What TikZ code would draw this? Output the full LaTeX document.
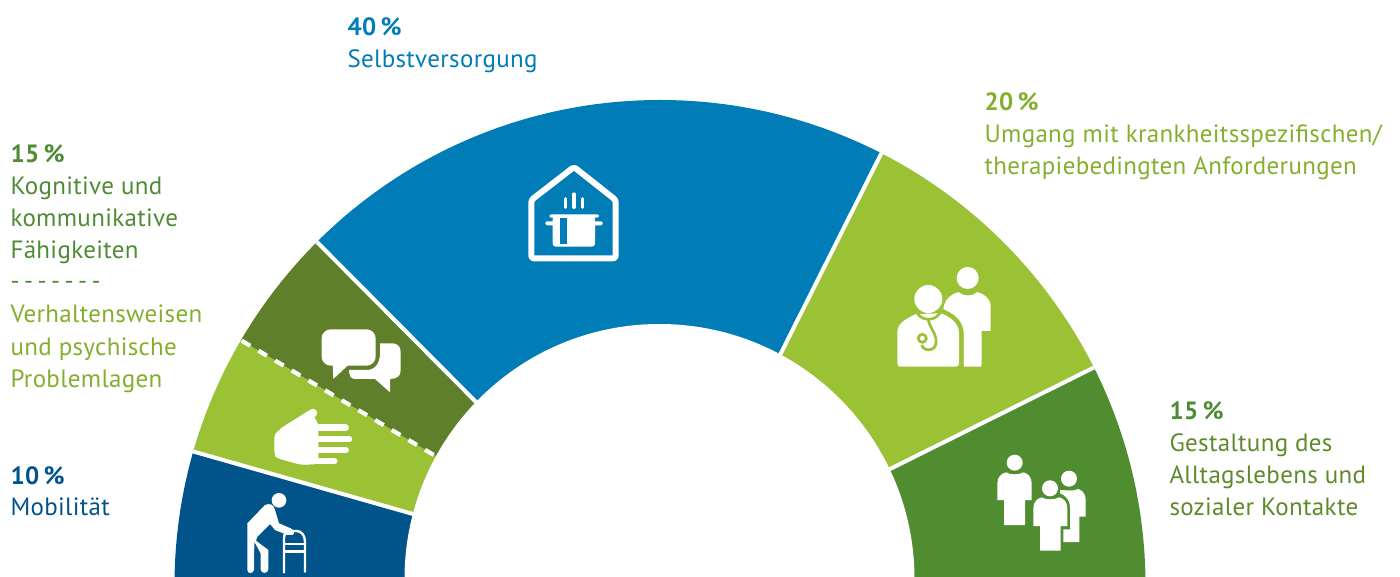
\documentclass[tikz,border=0pt]{standalone}
\usepackage{fontspec}
\usetikzlibrary{calc}
\setmainfont{PT Sans}
\newfontfamily\lab[LetterSpace=1.3]{PT Sans}
\newfontfamily\labb[LetterSpace=2,BoldFont={PT Sans Bold}]{PT Sans}
\definecolor{cblue}{HTML}{007CB7}
\definecolor{clight}{HTML}{9BC135}
\definecolor{cgreen}{HTML}{508D30}
\definecolor{colive}{HTML}{5F7F2A}
\definecolor{cnavy}{HTML}{00548A}
\definecolor{tlight}{HTML}{84AF2E}
\definecolor{tgreen}{HTML}{4F8B35}
\definecolor{tolive}{HTML}{5F8A2A}
\tikzset{
 txt/.style={anchor=base west,inner sep=0pt,font=\lab\fontsize{25}{25}\selectfont},
 pct/.style={anchor=base west,inner sep=0pt,font=\labb\bfseries\fontsize{25}{25}\selectfont},
 divider/.style={draw=white,line width=4pt},
 ic/.style={fill=white,draw=none},
 zoomed/.style={x=0.33333pt,y=-0.33333pt},
}
\begin{document}
\begin{tikzpicture}[x=1pt,y=-1pt]
\useasboundingbox (0,0) rectangle (1400,577);
\coordinate (o1) at (1095,367); \coordinate (i1) at (888,470);
\coordinate (o2) at (882,152);  \coordinate (i2) at (780,355);
\coordinate (o3) at (317,242);  \coordinate (i3) at (477,403);
\coordinate (o4) at (241.7,340.7); \coordinate (i4) at (436.7,456.7);
\coordinate (o5) at (194,451.7); \coordinate (i5) at (413,514);
\begin{scope}
\clip (0,0) rectangle (1400,577);
\clip (660,585.5) circle[radius=485.5pt];
\fill[cgreen] ($(i1)!-0.3!(o1)$) -- ($(i1)!3!(o1)$) -- (1400,700) -- (800,700) -- cycle;
\fill[clight] ($(i1)!-0.3!(o1)$) -- ($(i1)!3!(o1)$) -- ($(i2)!3!(o2)$) -- ($(i2)!-0.3!(o2)$) -- cycle;
\fill[cblue] ($(i2)!-0.3!(o2)$) -- ($(i2)!3!(o2)$) -- ($(i3)!3!(o3)$) -- ($(i3)!-0.3!(o3)$) -- cycle;
\fill[colive] ($(i3)!-0.3!(o3)$) -- ($(i3)!3!(o3)$) -- ($(i4)!3!(o4)$) -- ($(i4)!-0.3!(o4)$) -- cycle;
\fill[clight] ($(i4)!-0.3!(o4)$) -- ($(i4)!3!(o4)$) -- ($(i5)!3!(o5)$) -- ($(i5)!-0.3!(o5)$) -- cycle;
\fill[cnavy] ($(i5)!-0.3!(o5)$) -- ($(i5)!3!(o5)$) -- (-100,700) -- (500,700) -- cycle;
\draw[divider] ($(i1)!-0.2!(o1)$) -- ($(i1)!1.2!(o1)$);
\draw[divider] ($(i2)!-0.2!(o2)$) -- ($(i2)!1.2!(o2)$);
\draw[divider] ($(i3)!-0.2!(o3)$) -- ($(i3)!1.2!(o3)$);
\draw[divider] ($(i5)!-0.2!(o5)$) -- ($(i5)!1.2!(o5)$);
\draw[draw=white,line width=4.2pt,dash pattern=on 10pt off 9.4pt] (o4) -- (i4);
\fill[white] (659.5,579) circle[radius=255pt];
\end{scope}
% house
\begin{scope}[shift={(500,150)},zoomed]
\draw[white,line width=6pt,rounded corners=2.5pt,line join=round] (94,325) -- (94,150) -- (222,51) -- (347,150) -- (347,325) -- cycle;
\fill[white,rounded corners=2pt] (148,193) rectangle (297,203);
\fill[white,rounded corners=1.5pt] (136,214) rectangle (308,226);
\fill[white,rounded corners=3pt] (158,198) -- (285,198) -- (285,290) -- (158,290) -- cycle;
\fill[cblue] (180,203) rectangle (202,282);
\draw[white,line width=3.2pt,line cap=round] (196,146) -- (196,172) (222,132) -- (222,172) (248,146) -- (248,172);
\end{scope}
% doctor
\begin{scope}[shift={(880,250)},zoomed]
\fill[ic] (263,84) circle[radius=33];
\fill[ic] (190,175) .. controls (195,145) and (215,132) .. (235,126) .. controls (250,140) and (278,140) .. (292,126) .. controls (312,132) and (332,145) .. (332,170) -- (332,243) -- (305,243) -- (305,345) -- (302,350) -- (253,350) -- (250,345) -- (250,240) -- cycle;
\path[draw=clight,line width=9pt,fill=clight] (52,345) -- (52,245) .. controls (52,220) and (80,205) .. (108,192) -- (182,190) .. controls (212,200) and (237,220) .. (237,250) -- (237,345) -- cycle;
\draw[clight,line width=3pt] (145,147) circle[radius=44];
\fill[ic] (145,147) circle[radius=42];
\fill[ic] (52,340) -- (52,245) .. controls (52,220) and (80,205) .. (108,192) -- (182,190) .. controls (212,200) and (237,220) .. (237,250) -- (237,340) .. controls (237,346) and (234,350) .. (228,350) -- (60,350) .. controls (55,350) and (52,346) .. (52,340) -- cycle;
\draw[clight,line width=2.7pt] (108,178) .. controls (115,218) and (175,218) .. (184,178);
\draw[clight,line width=2.7pt] (145,210) .. controls (150,235) and (172,255) .. (168,280) .. controls (165,305) and (130,305) .. (125,285);
\draw[clight,line width=2.7pt,fill=white] (127,265) circle[radius=12];
\end{scope}
% group
\begin{scope}[shift={(980,440)},zoomed]
\fill[ic] (104,68) circle[radius=24];
\fill[ic] (52,130) .. controls (52,110) and (65,100) .. (78,97) .. controls (90,105) and (118,105) .. (130,97) .. controls (143,100) and (155,110) .. (155,130) -- (155,180) -- (135,180) -- (135,255) -- (72,255) -- (72,180) -- (52,180) -- cycle;
\fill[ic] (267,116) circle[radius=24];
\fill[ic] (240,150) .. controls (255,150) and (280,155) .. (295,147) .. controls (310,152) and (317,165) .. (317,180) -- (317,230) -- (298,230) -- (298,306) -- (250,306) -- (250,268) -- (270,268) -- (270,200) .. controls (270,180) and (255,165) .. (240,160) -- cycle;
\fill[ic] (210,145) circle[radius=24];
\fill[ic] (160,205) .. controls (160,185) and (172,175) .. (185,172) .. controls (197,180) and (225,180) .. (238,172) .. controls (250,175) and (262,185) .. (262,205) -- (262,258) -- (242,258) -- (242,332) -- (180,332) -- (180,258) -- (160,258) -- cycle;
\end{scope}
% speech bubbles, hand, walker
\begin{scope}[shift={(170,320)},zoomed]
\fill[ic,rounded corners=9pt] (455,28) -- (617,28) -- (617,137) -- (455,137) -- cycle;
\fill[ic] (488,130) -- (490,177) -- (538,132) -- cycle;
\fill[ic] (630,70) -- (668,70) .. controls (682,70) and (692,80) .. (692,95) -- (692,152) .. controls (692,168) and (680,177) .. (660,177) -- (660,217) -- (615,177) -- (555,177) .. controls (542,177) and (537,165) .. (537,150) -- (590,150) .. controls (615,150) and (630,130) .. (630,100) -- cycle;
\fill[ic,rounded corners=4pt] (313,340) -- (420,272) -- (445,310) -- (445,432) -- (395,435) -- (322,415) -- (313,405) -- cycle;
\draw[white,line width=8.5pt,line cap=round] (340,335) -- (429,279);
\draw[white,line width=6.6pt,line cap=round] (420,323) -- (527,323) (430,357) -- (537,357) (430,390) -- (527,390) (400,423) -- (493,423);
\fill[ic] (327,541) circle[radius=22];
\fill[ic,line join=round] (232,610) -- (285,555) .. controls (300,548) and (312,555) .. (315,570) -- (327,610) -- (362,625) .. controls (372,630) and (375,640) .. (368,645) -- (352,645) -- (315,630) -- (300,612) -- (262,650) -- (258,662) -- (295,690) -- (295,748) .. controls (295,762) and (272,762) .. (272,748) -- (272,700) -- (253,665) -- (252,750) .. controls (250,762) and (232,762) .. (232,750) -- cycle;
\draw[white,line width=2.4pt,line cap=round] (342,757) -- (342,655) .. controls (342,640) and (350,633) .. (365,633) -- (380,633) .. controls (395,633) and (405,648) .. (405,665) -- (405,755);
\draw[white,line width=2.4pt] (342,672) -- (405,672) (342,694) -- (405,694);
\end{scope}
% labels
\node[pct,text=cblue] (a1) at (347.3,36) {40\,\%};
\node[txt,text=cblue] (a2) at (347.3,68) {Selbstversorgung};
\node[pct,text=tlight] (b1) at (984.3,111) {20\,\%};
\node[txt,text=tlight] (b2) at (984.3,143) {Umgang mit krankheitsspezifischen/};
\node[txt,text=tlight] (b3) at (984.3,175) {therapiebedingten Anforderungen};
\node[pct,text=tgreen] (c1) at (1169.3,419) {15\,\%};
\node[txt,text=tolive] (c2) at (1169.3,451) {Gestaltung des};
\node[txt,text=tolive] (c3) at (1169.3,483) {Alltagslebens und};
\node[txt,text=tolive] (c4) at (1169.3,515) {sozialer Kontakte};
\node[pct,text=tgreen] (d1) at (10.3,163) {15\,\%};
\node[txt,text=tgreen] (d2) at (10.3,195) {Kognitive und};
\node[txt,text=tgreen] (d3) at (10.3,227) {kommunikative};
\node[txt,text=tgreen] (d4) at (10.3,259) {Fähigkeiten};
\node[txt,text=tgreen] (d5) at (10.3,290) {\spaceskip=4.5pt\relax - - - - - - -};
\node[txt,text=tlight] (e1) at (10.3,323) {Verhaltensweisen};
\node[txt,text=tlight] (e2) at (10.3,355) {und psychische};
\node[txt,text=tlight] (e3) at (10.3,387) {Problemlagen};
\node[pct,text=cnavy] (f1) at (10.3,484) {10\,\%};
\node[txt,text=cnavy] (f2) at (10.3,515) {Mobilität};
\end{tikzpicture}
\end{document}
